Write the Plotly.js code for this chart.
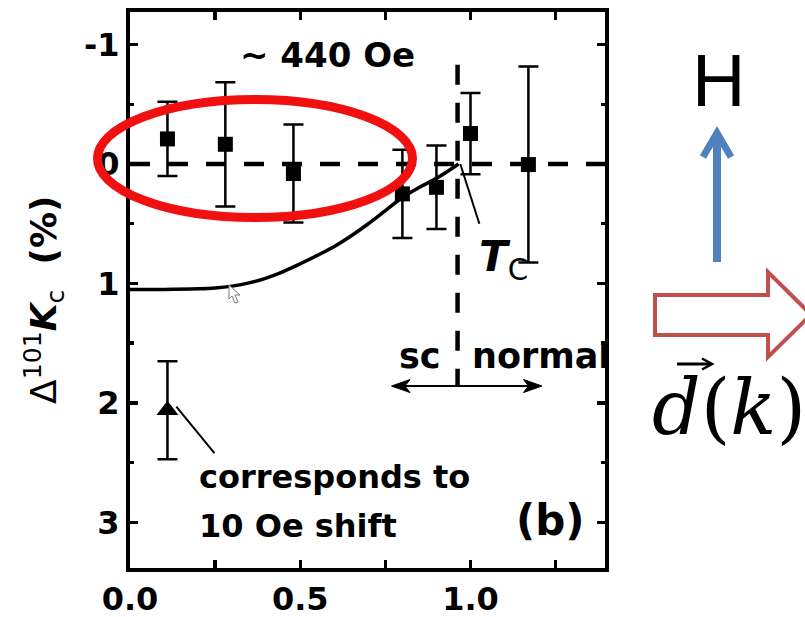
<!DOCTYPE html>
<html>
<head>
<meta charset="utf-8">
<script src="https://cdn.plot.ly/plotly-3.0.1.min.js"></script>
<style>html,body{margin:0;padding:0;background:#fff;}#chart{width:805px;height:617px;}</style>
</head>
<body>
<div id="chart"></div>
<script>
// ---- data ----
const X_SQ   = [0.11, 0.28, 0.48, 0.80, 0.90, 1.00, 1.17];
const Y_SQ   = [-0.21, -0.165, 0.08, 0.25, 0.195, -0.255, 0.005];
const ERR_SQ = [0.31, 0.52, 0.41, 0.37, 0.35, 0.34, 0.82];
const X_TRI   = [0.11];
const Y_TRI   = [2.06];
const ERR_TRI = [0.41];
const X_FIT = [0.0, 0.10, 0.20, 0.25, 0.30, 0.35, 0.40, 0.45, 0.50, 0.55, 0.60, 0.65, 0.70, 0.75, 0.80, 0.85, 0.90, 0.965];
const Y_FIT = [1.05, 1.05, 1.045, 1.038, 1.022, 0.995, 0.955, 0.90, 0.835, 0.765, 0.69, 0.60, 0.50, 0.39, 0.28, 0.195, 0.12, 0.0];
const TC = 0.962;
const X_TICKS = [0, 0.5, 1.0];
const X_TICKTEXT = ['0.0', '0.5', '1.0'];
const X_MINOR = [0.25, 0.75, 1.25];
const Y_TICKS = [-1, 0, 1, 2, 3];
const Y_TICKTEXT = ['-1', '0', '1', '2', '3'];
const Y_MINOR = [-0.5, 0.5, 1.5, 2.5];
const Y_TITLE = 'Δ<sup>101</sup><b><i>K</i></b><sub>c</sub><b>  (%)</b>';

// ---- layout geometry ----
const W = 805, H = 617;
const M = {l: 130, r: 200, t: 12, b: 49};
const PW = W - M.l - M.r, PH = H - M.t - M.b;
const px = x => (x - M.l) / PW;
const py = y => (H - M.b - y) / PH;
function pathPx(pts, close) {
  return pts.map((p, i) => (i ? 'L' : 'M') + px(p[0]).toFixed(4) + ',' + py(p[1]).toFixed(4)).join(' ') + (close ? ' Z' : '');
}
const FB = {family: 'DejaVu Sans', color: 'black', weight: 'bold'};

const traces = [
  {x: X_FIT, y: Y_FIT, type: 'scatter', mode: 'lines',
   line: {color: 'black', width: 3.5, shape: 'spline', smoothing: 1}, hoverinfo: 'skip'},
  {x: X_SQ, y: Y_SQ, type: 'scatter', mode: 'markers',
   marker: {symbol: 'square', size: 15, color: 'black'},
   error_y: {type: 'data', array: ERR_SQ, visible: true, color: 'black', thickness: 2.5, width: 10}},
  {x: X_TRI, y: Y_TRI, type: 'scatter', mode: 'markers',
   marker: {symbol: 'triangle-up', size: 19, color: 'black'},
   error_y: {type: 'data', array: ERR_TRI, visible: true, color: 'black', thickness: 2.5, width: 10}}
];

const shapes = [
  // dashed reference lines (data coords)
  {type: 'line', xref: 'x', yref: 'y', x0: 0, x1: 1.395, y0: 0, y1: 0,
   line: {color: 'black', width: 4.5, dash: '20px,18px'}, layer: 'below'},
  {type: 'line', xref: 'x', yref: 'y', x0: TC, x1: TC, y0: -0.83, y1: 1.86,
   line: {color: 'black', width: 4.5, dash: '20px,18px'}, layer: 'below'},
  // pointer lines
  {type: 'line', xref: 'x', yref: 'y', x0: 0.97, y0: 0.0, x1: 1.026, y1: 0.5, line: {color: 'black', width: 2}},
  {type: 'line', xref: 'x', yref: 'y', x0: 0.136, y0: 2.03, x1: 0.248, y1: 2.42, line: {color: 'black', width: 2}},
  // double-headed arrow sc <-> normal
  {type: 'path', xref: 'paper', yref: 'paper', path: pathPx([[398, 386], [535, 386]]), line: {color: 'black', width: 2.2}},
  {type: 'path', xref: 'paper', yref: 'paper', path: pathPx([[391.5, 386], [410, 379.5], [405, 386], [410, 392.5]], true),
   line: {color: 'black', width: 1}, fillcolor: 'black'},
  {type: 'path', xref: 'paper', yref: 'paper', path: pathPx([[542, 386], [523.5, 379.5], [528.5, 386], [523.5, 392.5]], true),
   line: {color: 'black', width: 1}, fillcolor: 'black'},
  // red ellipse
  {type: 'circle', xref: 'paper', yref: 'paper', x0: px(97.5), x1: px(412.5), y0: py(217.5), y1: py(99.5),
   line: {color: '#f01010', width: 9}, layer: 'above'},
  // blue arrow (H)
  {type: 'path', xref: 'paper', yref: 'paper', path: pathPx([[717, 262], [717, 134]]),
   line: {color: '#4f81bd', width: 8}},
  {type: 'path', xref: 'paper', yref: 'paper', path: pathPx([[703, 157], [717, 133], [731, 157]]),
   line: {color: '#4f81bd', width: 7}},
  // red hollow arrow
  {type: 'path', xref: 'paper', yref: 'paper',
   path: pathPx([[655, 295], [768, 295], [768, 272], [811, 314.5], [768, 357], [768, 335], [655, 335]], true),
   line: {color: '#c0504d', width: 4}, fillcolor: 'white'},
  // vector arrow over d
  {type: 'path', xref: 'paper', yref: 'paper', path: pathPx([[677, 364], [710, 364]]),
   line: {color: 'black', width: 3}},
  {type: 'path', xref: 'paper', yref: 'paper', path: pathPx([[702, 358.5], [712, 364], [702, 369.5]]),
   line: {color: 'black', width: 2.5}},
  // mouse cursor artefact
  {type: 'path', xref: 'paper', yref: 'paper',
   path: pathPx([[229, 285], [229, 299], [232, 296], [235, 303], [238, 302], [235, 295], [240, 295]], true),
   line: {color: '#777', width: 1}, fillcolor: 'white'}
];

function ann(x, y, text, size, opts) {
  return Object.assign({xref: 'paper', yref: 'paper', x: px(x), y: py(y), text: text, showarrow: false,
    font: Object.assign({}, FB, {size: size}), xanchor: 'center', yanchor: 'middle'}, opts || {});
}

const annotations = [
  ann(44, 300, Y_TITLE, 36, {textangle: -90, font: {family: 'DejaVu Sans', size: 36, color: 'black'}}),
  ann(327, 55, '~ 440 Oe', 34),
  ann(443, 356, 'sc', 35, {xanchor: 'right'}),
  ann(470, 356, 'normal', 35, {xanchor: 'left'}),
  ann(197, 477, 'corresponds to', 32, {xanchor: 'left'}),
  ann(197, 526, '10 Oe shift', 32, {xanchor: 'left'}),
  ann(550, 520, '(b)', 42),
  ann(477, 259, '<b><i>T</i></b><sub>C</sub>', 42, {xanchor: 'left', font: {family: 'DejaVu Sans', size: 42, color: 'black'}}),
  ann(718, 80, 'H', 74, {font: {family: 'Liberation Sans', size: 74, color: 'black'}}),
  ann(729, 407, '<i>d</i>(<i>k</i>)', 76, {font: {family: 'DejaVu Serif', size: 76, color: 'black'}})
];

const axisCommon = {showline: true, linewidth: 4, linecolor: 'black', mirror: 'ticks',
  ticks: 'inside', tickwidth: 3.5, tickcolor: 'black', showgrid: false, zeroline: false,
  tickmode: 'array', tickfont: Object.assign({}, FB, {size: 32})};

const layout = {
  width: W, height: H, margin: M, showlegend: false,
  paper_bgcolor: 'white', plot_bgcolor: 'white',
  xaxis: Object.assign({}, axisCommon, {range: [0, 1.395], tickvals: X_TICKS, ticktext: X_TICKTEXT, ticklen: 8,
    minor: {tickmode: 'array', tickvals: X_MINOR, ticks: 'inside', ticklen: 8, tickwidth: 3.5, tickcolor: 'black', showgrid: false}}),
  yaxis: Object.assign({}, axisCommon, {range: [3.381, -1.272], autorange: false, tickvals: Y_TICKS, ticktext: Y_TICKTEXT, ticklen: 8,
    minor: {tickmode: 'array', tickvals: Y_MINOR, ticks: 'inside', ticklen: 4, tickwidth: 3.5, tickcolor: 'black', showgrid: false}}),
  shapes: shapes, annotations: annotations
};

Plotly.newPlot('chart', traces, layout, {staticPlot: true});
</script>
</body>
</html>
